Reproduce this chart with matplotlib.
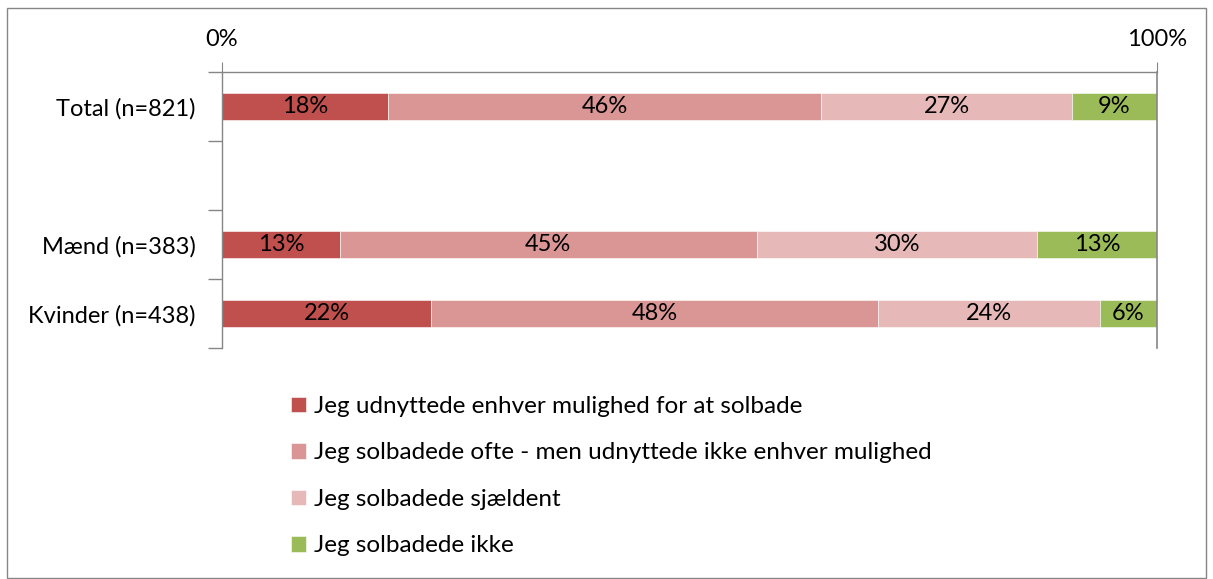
import numpy as np
import matplotlib.pyplot as plt
from matplotlib.patches import Rectangle

# Data (shares in %)
groups = ['Total (n=821)', '', 'Mænd (n=383)', 'Kvinder (n=438)']
series = ['Jeg udnyttede enhver mulighed for at solbade',
          'Jeg solbadede ofte - men udnyttede ikke enhver mulighed',
          'Jeg solbadede sjældent',
          'Jeg solbadede ikke']
udnyttede = [17.8, np.nan, 12.6, 22.4]
ofte = [46.3, np.nan, 44.6, 47.8]
sjaeldent = [26.8, np.nan, 30.0, 23.7]
ikke = [9.1, np.nan, 12.8, 6.1]
colors = ['#C0504D', '#D99694', '#E6B9B8', '#9BBB59']

plt.rcParams['font.family'] = ['Lato', 'DejaVu Sans']

fig = plt.figure(figsize=(12.13, 5.79), dpi=100)
ax = fig.add_axes([0.1830, 0.3990, 0.7708, 0.4767])

# outer chart frame
fig.patches.append(Rectangle((0.006, 0.002), 0.988, 0.984, transform=fig.transFigure,
                             fill=False, edgecolor='#868686', linewidth=1))

y = np.arange(len(groups))
left = np.zeros(len(groups))
handles = []
for vals, col, name in zip([udnyttede, ofte, sjaeldent, ikke], colors, series):
    v = np.nan_to_num(np.array(vals, dtype=float))
    b = ax.barh(y, v, left=left, height=0.4, color=col, edgecolor='white', linewidth=0.4, label=name)
    handles.append(b)
    for yi, vi, li in zip(y, v, left):
        if vi > 0:
            ax.text(li + vi / 2, yi, f'{vi:.0f}%', ha='center', va='center', fontsize=17, color='black')
    left += v

ax.set_xlim(0, 100)
ax.set_ylim(3.5, -0.5)

# x axis at top
ax.xaxis.set_ticks_position('top')
ax.set_xticks([0, 100])
ax.set_xticklabels(['0%', '100%'], fontsize=17)
ax.tick_params(axis='x', direction='out', length=7, color='#868686', pad=9)
ax.axvline(100, color='#868686', linewidth=1.2, clip_on=False)

# category labels with boundary ticks
ax.set_yticks(y)
ax.set_yticklabels(groups, fontsize=17)
ax.tick_params(axis='y', length=0, pad=19)
ax.set_yticks(np.arange(-0.5, 4, 1), minor=True)
ax.tick_params(axis='y', which='minor', length=10, color='#868686', width=1)

for s in ['right', 'bottom']:
    ax.spines[s].set_visible(False)
for s in ['left', 'top']:
    ax.spines[s].set_color('#868686')
    ax.spines[s].set_linewidth(1)

fig.legend(handles=handles, loc='upper left', bbox_to_anchor=(0.232, 0.333), frameon=False,
           fontsize=17.5, labelspacing=1.05, handlelength=0.6, handleheight=0.6, handletextpad=0.35,
           borderaxespad=0)

plt.savefig('out.png', dpi=100)
